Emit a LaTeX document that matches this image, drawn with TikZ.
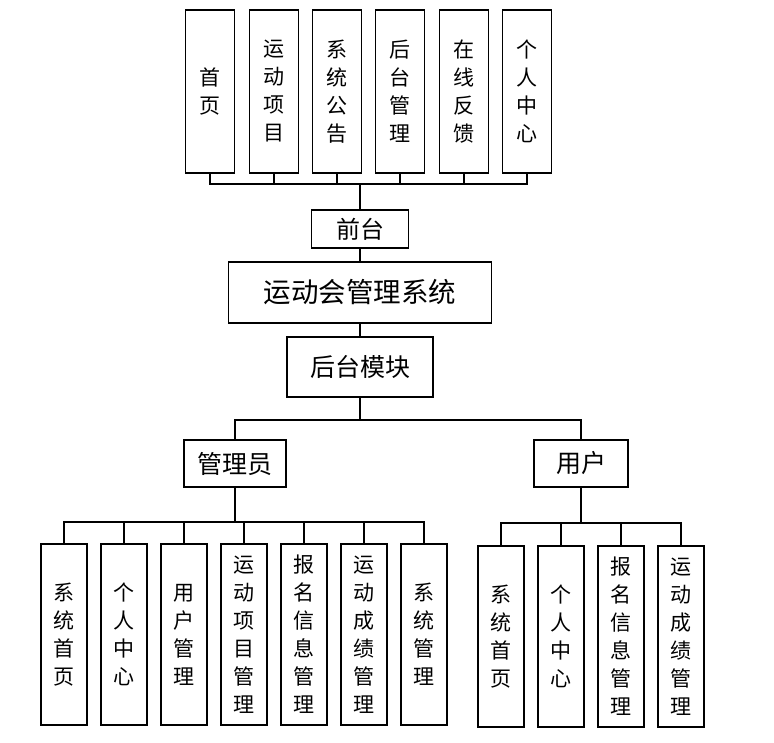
\documentclass[tikz,border=0pt]{standalone}
\usepackage{fontspec}
\setmainfont{Noto Sans CJK SC}
\begin{document}
\begin{tikzpicture}[x=1pt,y=-1pt,line width=1.2pt,
  box/.style={draw,line width=1.2pt,inner sep=0pt,align=center},
  vbox/.style={box,font=\fontsize{21}{28}\selectfont},
  hbox/.style={box,font=\fontsize{25}{30}\selectfont},
  conn/.style={line width=1.2pt},
  trunk/.style={line width=2.2pt}]
\useasboundingbox (0,0) rectangle (774,742);
% top level
\foreach \n/\x/\t in {1/210/首\\页,2/274/运\\动\\项\\目,3/337/系\\统\\公\\告,4/400/后\\台\\管\\理,5/464/在\\线\\反\\馈,6/527/个\\人\\中\\心}
  \node[vbox,minimum width=49,minimum height=163] (t\n) at (\x,91.5) {\t};
\node[box,font=\fontsize{24}{28}\selectfont,minimum width=97,minimum height=38] (qt) at (360,229) {前台};
\node[box,font=\fontsize{27.5}{32}\selectfont,minimum width=263,minimum height=61] (sys) at (360,292.5) {运动会管理系统};
\node[hbox,minimum width=146,minimum height=60] (bk) at (360,367) {后台模块};
\node[hbox,minimum width=102,minimum height=47] (adm) at (235,463.5) {管理员};
\node[hbox,minimum width=94,minimum height=47] (usr) at (581,463.5) {用户};
% admin children
\foreach \n/\x/\t in {1/64/系\\统\\首\\页,2/124/个\\人\\中\\心,3/184/用\\户\\管\\理,4/244/运\\动\\项\\目\\管\\理,5/304/报\\名\\信\\息\\管\\理,6/364/运\\动\\成\\绩\\管\\理,7/424/系\\统\\管\\理}
  \node[vbox,minimum width=46,minimum height=181] (a\n) at (\x,634.5) {\t};
% user children
\foreach \n/\x/\t in {1/501/系\\统\\首\\页,2/561/个\\人\\中\\心,3/621/报\\名\\信\\息\\管\\理,4/681/运\\动\\成\\绩\\管\\理}
  \node[vbox,minimum width=46,minimum height=181] (u\n) at (\x,636.5) {\t};
% connectors
\coordinate (tb) at (360,184);
\foreach \n in {1,...,6} \draw[conn] (t\n.south) |- (tb);
\draw[trunk] (tb) -- (qt.north);
\draw[conn] (qt.south) -- (sys.north);
\draw[conn] (sys.south) -- (bk.north);
\coordinate (mb) at (360,420);
\draw[conn] (bk.south) -- (mb);
\draw[conn] (mb) -| (adm.north);
\draw[conn] (mb) -| (usr.north);
\coordinate (ab) at (235,522);
\draw[trunk] (adm.south) -- (ab);
\foreach \n in {1,...,7} \draw[conn] (ab) -| (a\n.north);
\coordinate (ub) at (581,523);
\draw[trunk] (usr.south) -- (ub);
\foreach \n in {1,...,4} \draw[conn] (ub) -| (u\n.north);
\end{tikzpicture}
\end{document}
